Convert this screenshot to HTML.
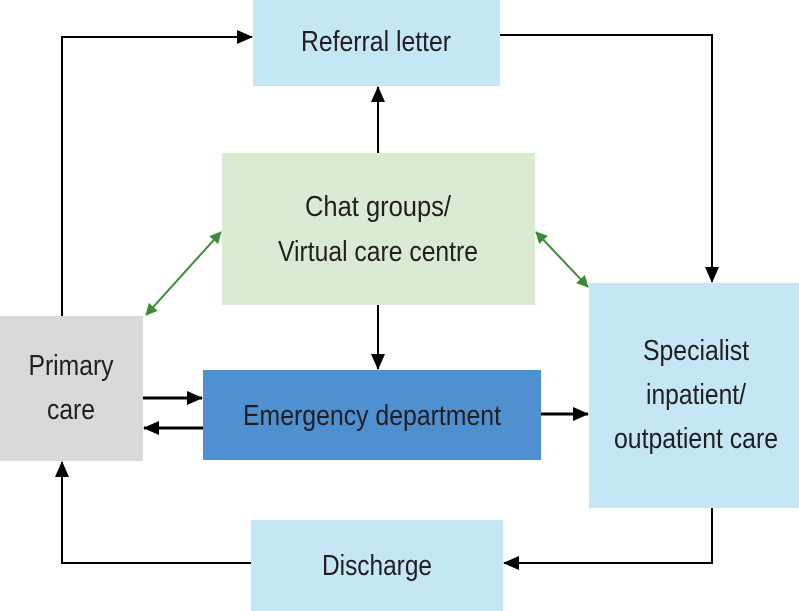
<!DOCTYPE html>
<html><head><meta charset="utf-8"><style>
html,body{margin:0;padding:0;background:#fff;}
svg{display:block;}
text{font-family:"Liberation Sans",Arial,sans-serif;font-size:29px;fill:#231f20;text-anchor:middle;}
</style></head><body>
<svg width="799" height="611" viewBox="0 0 799 611" xmlns="http://www.w3.org/2000/svg">
<defs>
<marker id="ag" markerWidth="12" markerHeight="12" refX="11" refY="6" orient="auto-start-reverse" markerUnits="userSpaceOnUse"><path d="M0,0 L12,6 L0,12 Z" fill="#3f8a3a"/></marker>
<marker id="ab2" markerWidth="16" markerHeight="16" refX="15" refY="8" orient="auto" markerUnits="userSpaceOnUse"><path d="M0,1 L16,8 L0,15 Z" fill="#000"/></marker>
</defs>
<rect x="253" y="0" width="247" height="86" fill="#c5e6f5"/>
<rect x="222" y="153" width="313" height="152" fill="#d9ecd3"/>
<rect x="0" y="316" width="143" height="145" fill="#d9d9d9"/>
<rect x="203" y="370" width="338" height="90" fill="#4f90d0"/>
<rect x="589" y="283" width="210" height="225" fill="#c5e6f5"/>
<rect x="251" y="520" width="252" height="91" fill="#c5e6f5"/>

<text x="376" y="51" textLength="150" lengthAdjust="spacingAndGlyphs">Referral letter</text>
<text x="378" y="216" textLength="146" lengthAdjust="spacingAndGlyphs">Chat groups/</text>
<text x="378" y="261" textLength="200" lengthAdjust="spacingAndGlyphs">Virtual care centre</text>
<text x="71" y="375" textLength="85" lengthAdjust="spacingAndGlyphs">Primary</text>
<text x="71" y="419" textLength="48" lengthAdjust="spacingAndGlyphs">care</text>
<text x="372" y="425" textLength="258" lengthAdjust="spacingAndGlyphs">Emergency department</text>
<text x="696" y="360" textLength="106" lengthAdjust="spacingAndGlyphs">Specialist</text>
<text x="696" y="404" textLength="100" lengthAdjust="spacingAndGlyphs">inpatient/</text>
<text x="696" y="448" textLength="164" lengthAdjust="spacingAndGlyphs">outpatient care</text>
<text x="377" y="575" textLength="110" lengthAdjust="spacingAndGlyphs">Discharge</text>

<g stroke="#000" stroke-width="2" fill="none">
<polyline points="62,316 62,37 252,37" marker-end="url(#ab2)"/>
<polyline points="500,35 712,35 712,282" marker-end="url(#ab2)"/>
<line x1="378" y1="153" x2="378" y2="87" marker-end="url(#ab2)"/>
<line x1="378" y1="305" x2="378" y2="369" marker-end="url(#ab2)"/>
<line x1="143" y1="398" x2="202" y2="398" stroke-width="3" marker-end="url(#ab2)"/>
<line x1="203" y1="428" x2="144" y2="428" stroke-width="3" marker-end="url(#ab2)"/>
<line x1="541" y1="414" x2="588" y2="414" stroke-width="3" marker-end="url(#ab2)"/>
<polyline points="712,508 712,563 504,563" marker-end="url(#ab2)"/>
<polyline points="251,563 62,563 62,462" marker-end="url(#ab2)"/>
</g>
<g stroke="#3f8a3a" stroke-width="2" fill="none">
<line x1="146" y1="315" x2="221" y2="232" marker-start="url(#ag)" marker-end="url(#ag)"/>
<line x1="536" y1="232" x2="588" y2="287" marker-start="url(#ag)" marker-end="url(#ag)"/>
</g>
</svg>
</body></html>
